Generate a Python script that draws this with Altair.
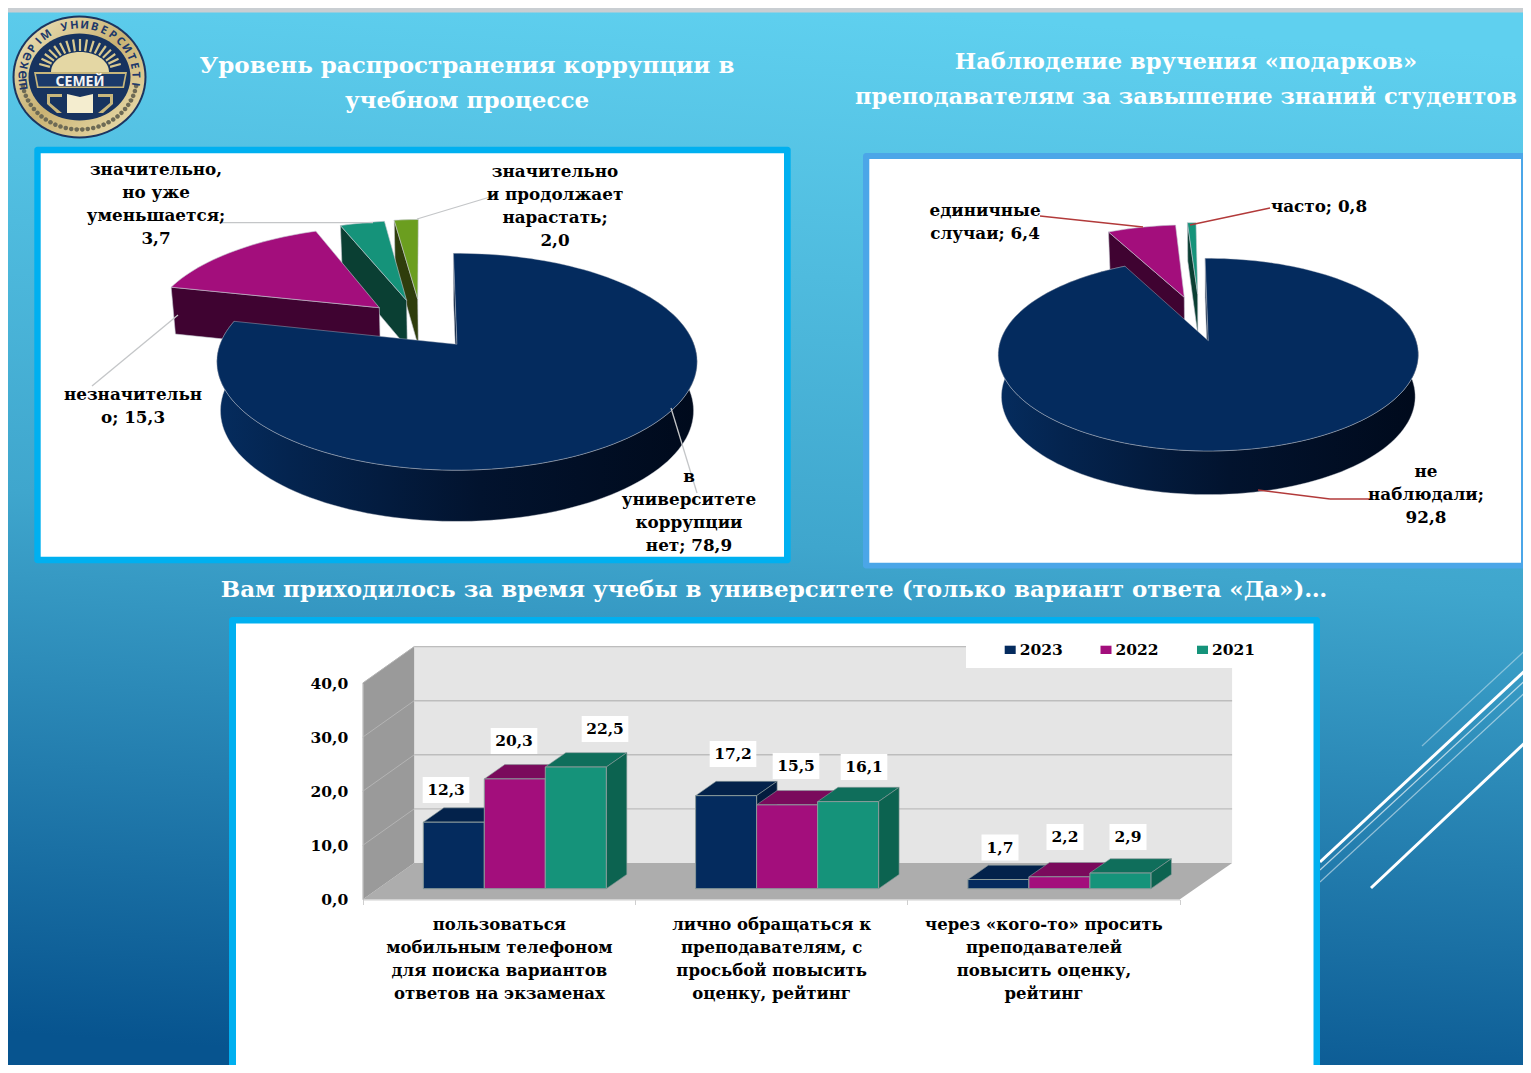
import math
import altair as alt
import pandas as pd

W, H = 1515, 1057
OX, OY = 8, 8
SERIF = "DejaVu Serif"

# ---------- data ----------
PIE1_VALUES = [78.9, 15.3, 3.7, 2.0]
PIE2_VALUES = [92.8, 6.4, 0.8]
CATEGORIES = ["cat1", "cat2", "cat3"]
CATEGORY_LABELS = [
    "пользоваться|мобильным телефоном|для поиска вариантов|ответов на экзаменах",
    "лично обращаться к|преподавателям,  с|просьбой повысить|оценку, рейтинг",
    "через «кого-то» просить|преподавателей|повысить оценку,|рейтинг",
]
SERIES = ["2023", "2022", "2021"]
VALUES_2023 = [12.3, 17.2, 1.7]
VALUES_2022 = [20.3, 15.5, 2.2]
VALUES_2021 = [22.5, 16.1, 2.9]
YTICKS = [0, 10, 20, 30, 40]

TITLE1 = ["Уровень  распространения  коррупции  в", "учебном  процессе"]
TITLE2 = ["Наблюдение вручения «подарков»", "преподавателям за завышение знаний студентов"]
TITLE3 = "Вам приходилось за время учебы в университете  (только вариант ответа «Да»)…"

NAVY, MAG, TEAL, OLIVE = "#042b5e", "#a30e7c", "#15937a", "#6b9e1f"
TOPS = {"2023": "#03224b", "2022": "#7a0a5c", "2021": "#0f6e5b"}
SIDES = {"2023": "#031c3e", "2022": "#6a0850", "2021": "#0c6350"}
FRONT = {"2023": NAVY, "2022": MAG, "2021": TEAL}

layers = []
BLANK = alt.Data(values=[{}])


def feat(pts, fill):
    ring = [[round(x - OX, 2), round(y - OY, 2)] for x, y in pts]
    ring.append(ring[0])
    return {"type": "Feature", "geometry": {"type": "Polygon", "coordinates": [ring]},
            "properties": {"fill": fill}}


def geo(features, **mark):
    return (alt.Chart(alt.Data(values=features)).mark_geoshape(**mark)
            .encode(fill=alt.Fill("properties.fill:N", scale=None))
            .project(type="identity", scale=1, translate=[0, 0]))


def rect(x1, y1, x2, y2, **mark):
    return alt.Chart(BLANK).mark_rect(**mark).encode(
        x=alt.value(x1 - OX), x2=alt.value(x2 - OX), y=alt.value(y1 - OY), y2=alt.value(y2 - OY))


def seg(x1, y1, x2, y2, color, width, opacity=1):
    return alt.Chart(BLANK).mark_rule(color=color, strokeWidth=width, opacity=opacity).encode(
        x=alt.value(x1 - OX), x2=alt.value(x2 - OX), y=alt.value(y1 - OY), y2=alt.value(y2 - OY))


def text(lines, cx, y, size=16.8, color="#000000", lh=23, font=SERIF, weight="bold", align="center", angle=0):
    kw = {"angle": angle % 360} if angle else {}
    return alt.Chart(BLANK).mark_text(text=lines, fontSize=size, color=color, lineHeight=lh, font=font,
                                      fontWeight=weight, align=align, baseline="alphabetic", **kw).encode(
        x=alt.value(cx - OX), y=alt.value(y - OY))


def ellipse(cx, cy, rx, ry, n=72):
    return [(cx + rx * math.cos(2 * math.pi * i / n), cy + ry * math.sin(2 * math.pi * i / n)) for i in range(n)]


def grad(stops, x1=0, y1=0, x2=0, y2=1):
    return alt.LinearGradient(gradient="linear", x1=x1, y1=y1, x2=x2, y2=y2,
                              stops=[alt.GradientStop(color=c, offset=o) for o, c in stops])


# ---------- background ----------
layers.append(rect(0, 8, 1540, 1080, fill=grad([(0, "#5fd0ef"), (0.5, "#3fa6cd"), (1, "#07548f")], 0.55, 0, 0.45, 1)))
layers.append(rect(0, 6, 1540, 12.5, fill="#c9ced2"))
for (a, b, c, d, wd, op) in [(1320, 862, 1531, 665, 3, 1), (1320, 870, 1531, 675, 1.2, 0.65),
                             (1320, 882, 1531, 687, 1.2, 0.5), (1422, 746, 1531, 645, 1.2, 0.4),
                             (1371, 888, 1531, 737, 3, 1)]:
    layers.append(seg(a, b, c, d, "#ffffff", wd, op))

# ---------- panels ----------
layers.append(rect(34.3, 146.7, 790.7, 563.3, fill="#00b0f0", cornerRadius=3))
layers.append(rect(40.7, 153.3, 784, 556.7, fill="#ffffff"))
layers.append(rect(863, 153, 1527, 568.5, fill="#4ba6e8", cornerRadius=3))
layers.append(rect(869.3, 159, 1521, 562.7, fill="#ffffff"))
layers.append(rect(229, 617, 1320, 1080, fill="#00b0f0", cornerRadius=3))
layers.append(rect(236, 623.5, 1313.5, 1066, fill="#ffffff"))

# ---------- logo ----------
GOLD = grad([(0, "#f0e6bf"), (0.5, "#c9b273"), (1, "#efe3b5")], 0, 0, 1, 1)
layers.append(geo([feat(ellipse(79.5, 77, 67, 61.5), "#1c355f")]))
layers.append(alt.Chart(alt.Data(values=[feat(ellipse(79.5, 77, 65, 59.5), "x")])).mark_geoshape(fill=GOLD)
              .project(type="identity", scale=1, translate=[0, 0]))
ring_feats = []
for i in range(30):
    t = math.radians(100 + i * (160 / 29))
    px = 79.5 + 57.5 * math.cos(t - math.pi / 2)
    py = 77 + 52.5 * math.sin(t - math.pi / 2)
    ring_feats.append(feat(ellipse(px, py, 2.3, 2.3, 12), "#6d6a55"))
layers.append(geo(ring_feats))
layers.append(geo([feat(ellipse(79.5, 77, 51, 43.5), "#17335f")]))
LOGO_RING = "ШӘКӘРІМ УНИВЕРСИТЕТІ"
for i, ch in enumerate(LOGO_RING):
    deg = -98 + i * (196 / (len(LOGO_RING) - 1))
    t = math.radians(deg)
    layers.append(text([ch], 79.5 + 53 * math.sin(t), 77 - 48.5 * math.cos(t), size=11, color="#20386a",
                       font="Noto Sans", angle=deg))
rays = []
for i in range(17):
    t = math.radians(-76 + i * 9.5)
    x0, y0 = 80 + 31 * math.sin(t), 72 - 21 * math.cos(t)
    x1, y1 = 80 + 42 * math.sin(t), 72 - 33 * math.cos(t)
    nx, ny = 1.1 * math.cos(t), 1.1 * math.sin(t)
    rays.append(feat([(x0 - nx, y0 - ny), (x1 - nx, y1 - ny), (x1 + nx, y1 + ny), (x0 + nx, y0 + ny)], "#d9c98f"))
sun = [(80 + 29 * math.cos(math.radians(d)), 72 + 20 * math.sin(math.radians(d))) for d in range(180, 361, 6)]
logo_shapes = rays + [feat(sun, "#e4d7a4"),
                      feat([(34, 72), (127, 72), (124, 88), (37, 88)], "#c7b67c"),
                      feat([(36, 74), (125, 74), (122.5, 86.5), (38.5, 86.5)], "#1b3a6b"),
                      feat([(67, 94), (80, 97), (93, 94), (93, 113), (67, 113)], "#f4edcf"),
                      feat([(47, 94), (62, 94), (62, 97), (50, 97), (50, 103), (62, 113), (57, 113), (47, 104)], "#c7b67c"),
                      feat([(113, 94), (98, 94), (98, 97), (110, 97), (110, 103), (98, 113), (103, 113), (113, 104)], "#c7b67c")]
layers.append(geo(logo_shapes))
layers.append(text(["СЕМЕЙ"], 80, 85.5, size=14, color="#f4f4f4", font="Noto Sans"))

# ---------- titles ----------
layers.append(text(TITLE1, 467, 73, size=23, color="#ffffff", lh=35))
layers.append(text(TITLE2, 1186, 69, size=22.6, color="#ffffff", lh=35))
layers.append(text([TITLE3], 774, 597, size=23, color="#ffffff"))


# ---------- pies ----------
def pie_shapes(P, values, shifts, colors, cuts):
    """Perspective-projected pie: angles come from the values."""
    def pt(u, v, down=False):
        w = 1 + P["k"] * v
        x = P["cx"] + P["A"] * u / w
        y = P["cy"] - P["B"] * v / w
        if down:
            y += P["D"] * (1 - 0.35 * (w - 1))
            x = P["cx"] + (x - P["cx"]) * 0.985
        return (x, y)

    total, acc = 360 / 100, P["rot"]
    far, rim, top = [], [], []
    spans = []
    for val in values:
        spans.append((acc, acc + val * total))
        acc += val * total
    order = list(range(len(values)))[::-1]
    for i in order:
        a1, a2 = spans[i]
        su, sv = shifts[i]
        steps = max(2, int((a2 - a1) / 2))
        angs = [a1 + (a2 - a1) * s / steps for s in range(steps + 1)]
        uv = [(su + math.sin(math.radians(a)), sv + math.cos(math.radians(a))) for a in angs]
        # visible cut face at the slice's first edge
        f = [pt(su, sv), pt(*uv[0]), pt(*uv[0], True), pt(su, sv, True)]
        far.append(feat(f, cuts[i]))
        if i == 0:
            vis = [q for q, a in zip(uv, angs) if 60 <= a <= a2]
            rim.append(feat([pt(*q) for q in vis] + [pt(*q, True) for q in vis[::-1]], "x"))
        tp = feat([pt(su, sv)] + [pt(*q) for q in uv], colors[i])
        if i == 0:
            top.append(tp)
        else:
            far.append(tp)
    return far, rim, top


PIE1 = dict(cx=457, cy=344.3, A=237, B=105.6, k=0.161, D=48.5, rot=-1)
PIE2 = dict(cx=1208.3, cy=340.7, A=207.8, B=94.3, k=0.145, D=41.5, rot=-1)
f1, r1, t1 = pie_shapes(PIE1, PIE1_VALUES, [(0, 0), (-0.347, 0.367), (-0.228, 0.445), (-0.178, 0.46)],
                        [NAVY, MAG, TEAL, OLIVE], ["#021a3a", "#3f0331", "#0a3f33", "#2f3d0c"])
f2, r2, t2 = pie_shapes(PIE2, PIE2_VALUES, [(0, 0), (-0.124, 0.493), (-0.055, 0.53)],
                        [NAVY, MAG, TEAL], ["#021a3a", "#3f0331", "#0a3f33"])
EDGE = "#c4c8d0"
layers.append(geo(f1 + f2, stroke=EDGE, strokeWidth=0.6))
RIM = grad([(0, "#000a1c"), (0.45, "#02132e"), (0.85, "#04244f"), (1, "#052c5e")], 1, 0, 0, 0)
layers.append(alt.Chart(alt.Data(values=r1 + r2)).mark_geoshape(fill=RIM, stroke=EDGE, strokeWidth=0.4)
              .project(type="identity", scale=1, translate=[0, 0]))
layers.append(geo(t1 + t2, stroke=EDGE, strokeWidth=0.4))

# leader lines
for s in [(222, 222.7, 373, 222.7), (417, 219, 490, 197), (178, 315, 92, 386), (671, 408, 697, 493)]:
    layers.append(seg(*s, "#c4c6c8", 1.3))
for s in [(1040, 216, 1143, 227), (1190, 225, 1270, 208), (1258, 490, 1330, 499), (1330, 499, 1370, 499)]:
    layers.append(seg(*s, "#b23a3a", 1.3))

# pie labels
layers.append(text(["значительно,", "но уже", "уменьшается;", "3,7"], 156, 174.5))
layers.append(text(["значительно", "и продолжает", "нарастать;", "2,0"], 555, 177))
layers.append(text(["незначительн", "о; 15,3"], 133, 400))
layers.append(text(["в", "университете", "коррупции", "нет; 78,9"], 689, 482))
layers.append(text(["единичные", "случаи; 6,4"], 985, 216))
layers.append(text(["часто; 0,8"], 1319, 212))
layers.append(text(["не", "наблюдали;", "92,8"], 1426, 477))

# ---------- 3-D bar chart ----------
Y0, UNIT = 899.5, 5.41
FLOOR_LIFT = 10.8
BAND0, BAND_STEP = 362.7, 272.3
OFF0, OFF_END = 60.6, 243.6
DEPX, DEPY = 20.5, 14.3
WALLX, WALLY = 51.5, 36.5


def ypx(v):
    return Y0 - FLOOR_LIFT - UNIT * v


bar_values = {"2023": VALUES_2023, "2022": VALUES_2022, "2021": VALUES_2021}
df = pd.DataFrame([{"cat": c, "series": s, "val": bar_values[s][i]}
                   for i, c in enumerate(CATEGORIES) for s in SERIES])
label_map = "{" + ",".join(f"'{c}':'{l}'" for c, l in zip(CATEGORIES, CATEGORY_LABELS)) + "}"
label_expr = f"isValid({label_map}[datum.value]) ? split({label_map}[datum.value],'|') : ''"

X_SCALE = alt.Scale(domain=CATEGORIES, range=[BAND0 - OX, BAND0 + 3 * BAND_STEP - OX], paddingInner=0, paddingOuter=0)
Y_SCALE = alt.Scale(domain=[0, 40], range=[Y0 - OY, Y0 - OY - 40 * UNIT], nice=False, zero=True)
x_enc = alt.X("cat:N", scale=X_SCALE,
              axis=alt.Axis(title=None, orient="bottom", offset=-(H - (Y0 - OY)), labelAngle=0, labelExpr=label_expr,
                            labelFont=SERIF, labelFontWeight="bold", labelFontSize=16.5, labelLineHeight=23,
                            labelColor="#000000", labelLimit=500, labelPadding=12, labelBaseline="top",
                            tickBand="extent", tickColor="#cfcfcf", tickSize=5, domainColor="#cfcfcf", zindex=1))
y_enc = alt.Y("val:Q", scale=Y_SCALE,
              axis=alt.Axis(title=None, values=YTICKS, grid=False, offset=-(BAND0 - OX), tickSize=0, labelPadding=15,
                            labelExpr="replace(format(datum.value,'.1f'),'.',',')", labelFont=SERIF,
                            labelFontWeight="bold", labelFontSize=15.5, labelColor="#000000", domainColor="#bdbdbd",
                            zindex=1))
xoff_enc = alt.XOffset("series:N", scale=alt.Scale(domain=SERIES, range=[OFF0, OFF_END], paddingInner=0, paddingOuter=0))

# walls and floor
bx0, bx1 = BAND0, BAND0 + 3 * BAND_STEP
walls = [feat([(bx0, Y0), (bx0 + WALLX, Y0 - WALLY), (bx1 + WALLX + 1, Y0 - WALLY), (bx1, Y0)], "#adadad"),
         feat([(bx0 + WALLX, Y0 - WALLY), (bx0 + WALLX, Y0 - WALLY - 40 * UNIT), (bx1 + WALLX + 1, Y0 - WALLY - 40 * UNIT),
               (bx1 + WALLX + 1, Y0 - WALLY)], "#e5e5e5"),
         feat([(bx0, Y0), (bx0, Y0 - 40 * UNIT), (bx0 + WALLX, Y0 - WALLY - 40 * UNIT), (bx0 + WALLX, Y0 - WALLY)], "#9a9a9a")]
layers.append(geo(walls))

grid = pd.DataFrame({"val": YTICKS[1:], "val2": [v + WALLY / UNIT for v in YTICKS[1:]]})
layers.append(alt.Chart(grid).mark_rule(color="#bdbdbd", strokeWidth=1.4, yOffset=-WALLY).encode(
    y=y_enc, x=alt.value(bx0 + WALLX - OX), x2=alt.value(bx1 + WALLX + 1 - OX)))
layers.append(alt.Chart(grid).mark_rule(color="#b4b4b4", strokeWidth=1).encode(
    y=y_enc, y2=alt.Y2("val2:Q"), x=alt.value(bx0 - OX), x2=alt.value(bx0 + WALLX - OX)))

# legend backing
layers.append(rect(966, 638, 1300, 668, fill="#ffffff"))

# bar depth faces
faces = []
bar_w = (OFF_END - OFF0) / 3
for i, c in enumerate(CATEGORIES):
    for j, s in enumerate(SERIES):
        v = bar_values[s][i]
        x0 = BAND0 + i * BAND_STEP + OFF0 + j * bar_w
        x1 = x0 + bar_w
        yt, yb = ypx(v), ypx(0)
        faces.append(feat([(x0, yt), (x0 + DEPX, yt - DEPY), (x1 + DEPX, yt - DEPY), (x1, yt)], TOPS[s]))
        faces.append(feat([(x1, yt), (x1 + DEPX, yt - DEPY), (x1 + DEPX, yb - DEPY), (x1, yb)], SIDES[s]))
layers.append(geo(faces, stroke="#8a9a9a", strokeWidth=0.6))

# value labels: bar index -> label centre
LABEL_CENTERS = [[(446, 790), (514, 741), (605, 729)], [(733, 754), (796, 766), (864, 767)],
                 [(1000, 847.5), (1065, 837), (1128, 837)]]
boxes = []
for i in range(3):
    for j, s in enumerate(SERIES):
        cx, cy = LABEL_CENTERS[i][j]
        hw = 23.3 if bar_values[s][i] >= 10 else 18.5
        boxes.append(feat([(cx - hw, cy - 13), (cx + hw, cy - 13), (cx + hw, cy + 13), (cx - hw, cy + 13)], "#ffffff"))
layers.append(geo(boxes))

# bars
layers.append(alt.Chart(df).mark_bar(stroke="#8a9a9a", strokeWidth=1, yOffset=-FLOOR_LIFT, y2Offset=-FLOOR_LIFT).encode(
    x=x_enc, xOffset=xoff_enc, y=y_enc,
    color=alt.Color("series:N", scale=alt.Scale(domain=SERIES, range=[FRONT[s] for s in SERIES]), legend=None)))

# value labels
for i, c in enumerate(CATEGORIES):
    for j, s in enumerate(SERIES):
        v = bar_values[s][i]
        cx, cy = LABEL_CENTERS[i][j]
        bc = BAND0 + i * BAND_STEP + OFF0 + (j + 0.5) * bar_w
        row = pd.DataFrame({"cat": [c], "series": [s], "val": [v],
                            "lab": [f"{v:.1f}".replace(".", ",")]})
        layers.append(alt.Chart(row).mark_text(font=SERIF, fontWeight="bold", fontSize=15.5, color="#000000",
                                               dx=cx - bc, dy=cy - (ypx(v) + FLOOR_LIFT),
                                               baseline="middle").encode(
            x=x_enc, xOffset=xoff_enc, y=y_enc, text="lab:N"))

# legend
LEG_X = [1004.7, 1100.5, 1197]
for xs, s in zip(LEG_X, SERIES):
    layers.append(rect(xs, 645.7, xs + 11, 654, fill=FRONT[s]))
    layers.append(text([s], xs + 15, 655, size=15.5, align="left"))

chart = (alt.layer(*layers)
         .properties(width=W, height=H, padding=0, autosize=alt.AutoSizeParams(type="none"), background="#ffffff")
         .configure_view(stroke=None))

chart.save("out.html", embed_options={"renderer": "svg", "actions": False})
